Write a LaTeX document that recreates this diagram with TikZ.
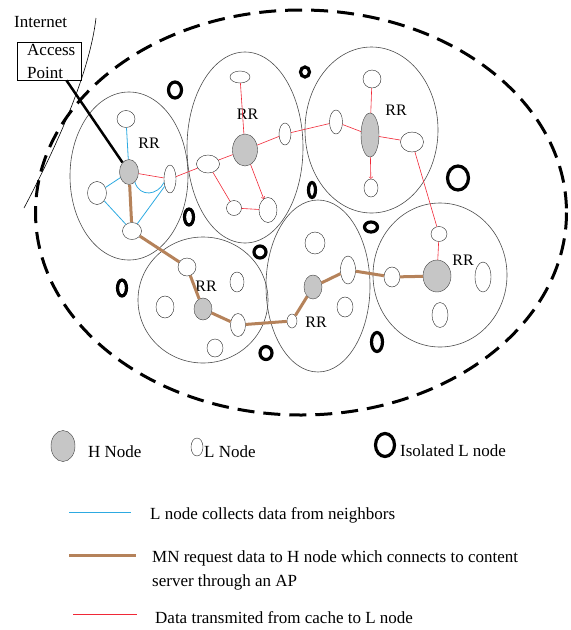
\documentclass[tikz,border=0pt]{standalone}
\usepackage{fontspec}
\setmainfont{Liberation Serif}
\usepackage{tikz}
\usetikzlibrary{shapes.geometric}

\definecolor{brownpath}{RGB}{181,130,90}
\definecolor{bluepath}{RGB}{45,170,225}
\definecolor{redpath}{RGB}{240,40,55}

\tikzset{
  hnode/.style 2 args={ellipse, draw=black!75, fill=gray!45, minimum width=#1, minimum height=#2, inner sep=0pt},
  lnode/.style 2 args={ellipse, draw=black!85, fill=white, minimum width=#1, minimum height=#2, inner sep=0pt},
  isonode/.style 2 args={ellipse, draw=black, line width=3.2pt, minimum width=#1, minimum height=#2, inner sep=0pt},
  cluster/.style={draw=black!70, line width=0.6pt},
  txt/.style={font=\fontsize{17}{20}\selectfont, inner sep=0pt},
  rrtxt/.style={font=\fontsize{16}{18}\selectfont, inner sep=0pt},
  blueline/.style={draw=bluepath, line width=0.8pt},
  redline/.style={draw=redpath, line width=0.6pt},
  brownline/.style={draw=brownpath, line width=3pt},
}

\begin{document}
\begin{tikzpicture}[x=1pt,y=-1pt]
			\useasboundingbox (0,0) rectangle (571,630);
			
			% Draw network border and internet edge
			\draw[line width=3pt, dash pattern=on 17pt off 9pt] (301,212.5) ellipse [x radius=265.5, y radius=202.5];
			\draw[line width=0.6pt] (96,18) .. controls (90,70) and (60,140) .. (24,208);
			\node[txt, anchor=base west] (inet) at (14,27) {Internet};
			
			% Draw access point
			\node[draw, line width=0.8pt, minimum width=64pt, minimum height=38pt, inner sep=0pt] (ap) at (49,61) {};
			\node[txt, anchor=base west] (apa) at (27,55) {Access};
			\node[txt, anchor=base west] (apb) at (27,78) {Point};
			
			% Draw clusters
			\draw[cluster] (129,176) ellipse [x radius=59, y radius=84];
			\draw[cluster] (245,147.5) ellipse [x radius=58, y radius=95.5];
			\draw[cluster] (371.5,130) ellipse [x radius=66.5, y radius=83];
			\draw[cluster] (203,300) ellipse [x radius=65, y radius=63];
			\draw[cluster] (318,286) ellipse [x radius=52, y radius=86];
			\draw[cluster] (440,275) ellipse [x radius=67, y radius=72];
			
			% Cluster 1 nodes
			\node[hnode={19}{25}] (h1) at (129,172) {};
			\node[lnode={18}{17}] (l1t) at (126,119) {};
			\node[lnode={19}{23}] (l1l) at (97,193) {};
			\node[lnode={19}{17}] (l1b) at (132,231) {};
			\node[lnode={12}{28}] (l1r) at (170,179) {};
			\node[rrtxt] (rr1) at (149,143) {RR};
			
			% Cluster 2 nodes
			\node[hnode={25}{32}] (h2) at (245,150) {};
			\node[lnode={20}{12}] (l2t) at (240,77) {};
			\node[lnode={23}{18}] (l2l) at (208,164) {};
			\node[lnode={12}{22}] (l2r) at (285,134) {};
			\node[lnode={15}{15}] (l2bl) at (234,208) {};
			\node[lnode={18}{25}] (l2br) at (268,210) {};
			\node[rrtxt] (rr2) at (247.5,114) {RR};
			
			% Cluster 3 nodes
			\node[hnode={18}{44}] (h3) at (370,135) {};
			\node[lnode={18}{18}] (l3t) at (372,79) {};
			\node[lnode={13}{24}] (l3l) at (336,122) {};
			\node[lnode={23}{20}] (l3r) at (412,142) {};
			\node[lnode={14}{18}] (l3b) at (371,188) {};
			\node[rrtxt] (rr3) at (396,110) {RR};
			
			% Cluster 4 nodes
			\node[hnode={18}{22}] (h4) at (203,309) {};
			\node[lnode={18}{18}] (l4tl) at (187,267) {};
			\node[lnode={18}{22}] (l4l) at (165,307) {};
			\node[lnode={14}{20}] (l4tr) at (237,282) {};
			\node[lnode={15}{23}] (l4rb) at (238,325) {};
			\node[lnode={16}{18}] (l4b) at (215,348) {};
			\node[rrtxt] (rr4) at (206,286) {RR};
			
			% Cluster 5 nodes
			\node[hnode={18}{24}] (h5) at (313,287) {};
			\node[lnode={20}{22}] (l5t) at (315,243) {};
			\node[lnode={15}{28}] (l5r) at (348,270) {};
			\node[lnode={16}{20}] (l5br) at (345,307) {};
			\node[lnode={10}{14}] (l5s) at (292,321) {};
			\node[rrtxt] (rr5) at (316,322) {RR};
			
			% Cluster 6 nodes
			\node[hnode={28}{32}] (h6) at (437,276) {};
			\node[lnode={16}{15}] (l6t) at (439,234) {};
			\node[lnode={16}{20}] (l6l) at (392,277) {};
			\node[lnode={16}{30}] (l6r) at (483,277) {};
			\node[lnode={16}{25}] (l6b) at (440,315) {};
			\node[rrtxt] (rr6) at (463,260) {RR};
			
			% Isolated L nodes
			\node[isonode={13}{16}] (i1) at (175,90) {};
			\node[isonode={9}{10}] (i2) at (305,72) {};
			\node[isonode={9}{16}] (i3) at (189,217) {};
			\node[isonode={7}{15}] (i4) at (312,190) {};
			\node[isonode={21}{24}] (i5) at (458,178) {};
			\node[isonode={13}{10}] (i6) at (371,227) {};
			\node[isonode={12}{12}] (i7) at (260,252) {};
			\node[isonode={9}{16}] (i8) at (122,288) {};
			\node[isonode={12}{13}] (i9) at (266,353) {};
			\node[isonode={11}{19}] (i10) at (377,342) {};
			
			% Draw access point link
			\draw[line width=2.5pt] (ap.-48) -- (h1);
			
			% Draw L node collecting data (blue)
			\draw[blueline] (h1) -- (l1t) (h1) -- (l1l) (h1) -- (l1b) (l1l) -- (l1b) (l1b) -- (l1r);
			\draw[blueline] (h1.-60) .. controls (140,198) and (158,195) .. (l1r.210);
			
			% Draw data from cache (red)
			\draw[redline] (h1) -- (l1r) -- (l2l) -- (h2) -- (l2r) -- (l3l) -- (h3) -- (l3r) -- (l6t) -- (h6);
			\draw[redline] (h2) -- (l2t) (l2l) -- (l2bl) -- (l2br) (h3) -- (l3t);
			\draw[redline, ->] (h2) -- (l2br);
			\draw[redline, ->] (h3) -- (l3b);
			
			% Draw MN request path (brown)
			\draw[brownline] (h1) -- (l1b) -- (l4tl) -- (h4) -- (l4rb) -- (l5s) -- (h5) -- (l5r) -- (l6l) -- (h6);
			
			% Draw legend of nodes
			\node[hnode={24}{31}] (hleg) at (63,446) {};
			\node[txt, anchor=base west] (hlegt) at (88,457) {H Node};
			\node[lnode={12}{18}] (lleg) at (197,447) {};
			\node[txt, anchor=base west] (llegt) at (204,457) {L Node};
			\node[isonode={19}{23}] (ileg) at (385,445) {};
			\node[txt, anchor=base west] (ilegt) at (400,456) {Isolated L node};
			
			% Draw legend of lines
			\coordinate (b1) at (69,512);
			\coordinate (b2) at (131,512);
			\draw[blueline] (b1) -- (b2);
			\node[txt, anchor=base west] (bt) at (150,519) {L node collects data from neighbors};
			\coordinate (m1) at (69,555);
			\coordinate (m2) at (136,555);
			\draw[brownline] (m1) -- (m2);
			\node[txt, anchor=base west] (mt1) at (152,562) {MN request data to H node which connects to content};
			\node[txt, anchor=base west] (mt2) at (152,586) {server through an AP};
			\coordinate (r1) at (73,614);
			\coordinate (r2) at (137,614);
			\draw[redline, line width=0.8pt] (r1) -- (r2);
			\node[txt, anchor=base west] (rt) at (155,623) {Data transmited from cache to L node};
		\end{tikzpicture}
\end{document}
